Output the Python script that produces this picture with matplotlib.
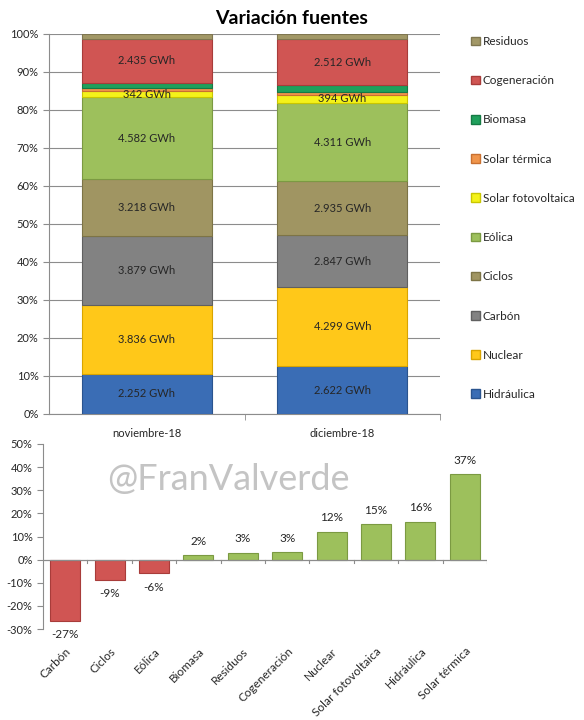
import matplotlib
matplotlib.use("Agg")
import matplotlib.pyplot as plt
from matplotlib.patches import Patch
from matplotlib.ticker import FuncFormatter, MultipleLocator, FixedLocator
import numpy as np

plt.rcParams['font.family'] = ['Lato', 'DejaVu Sans']

# ---------------- data ----------------
months = ["noviembre-18", "diciembre-18"]
sources = ["Hidráulica", "Nuclear", "Carbón", "Ciclos", "Eólica",
           "Solar fotovoltaica", "Solar térmica", "Biomasa", "Cogeneración", "Residuos"]
nov_gwh = [2252, 3836, 3879, 3218, 4582, 342, 150, 330, 2435, 290]
dic_gwh = [2622, 4299, 2847, 2935, 4311, 394, 205, 337, 2512, 299]
show_label = [True, True, True, True, True, True, False, False, True, False]
colors = ["#3A6DB5", "#FFC819", "#828282", "#A09562", "#9DC05C",
          "#F4F21A", "#F0954B", "#1FA05C", "#D05553", "#A29867"]
edges = ["#2a548f", "#d9a400", "#606060", "#7d7446", "#7b9a42",
         "#c9c600", "#c87030", "#157a44", "#a83c3a", "#7f7650"]

var_sources = ["Carbón", "Ciclos", "Eólica", "Biomasa", "Residuos", "Cogeneración",
               "Nuclear", "Solar fotovoltaica", "Hidráulica", "Solar térmica"]
var_pct = [-26.6, -8.8, -5.9, 2.0, 3.0, 3.2, 12.1, 15.2, 16.4, 37.0]

# ---------------- figure ----------------
W, H = 584, 720
fig = plt.figure(figsize=(W / 100, H / 100), dpi=100)

def fx(px):
    return px / W

def fy(py):
    return 1 - py / H

txt_col = "#262626"
ax_col = "#8c8c8c"

# ---------- top stacked 100% chart ----------
ax1 = fig.add_axes([fx(49), fy(414), fx(440) - fx(49), fy(34) - fy(414)])
data = np.array([nov_gwh, dic_gwh], dtype=float)
totals = data.sum(axis=1)
shares = data / totals[:, None] * 100
x = np.arange(len(months))
bottom = np.zeros(len(months))
handles = []
for i, s in enumerate(sources):
    ax1.bar(x, shares[:, i], width=0.665, bottom=bottom, color=colors[i],
            edgecolor=edges[i], linewidth=0.8, zorder=3)
    if show_label[i]:
        for j in range(len(months)):
            v = data[j, i]
            lab = f"{int(v):,} GWh".replace(",", ".")
            ax1.text(x[j], bottom[j] + shares[j, i] / 2, lab, ha="center", va="center",
                     fontsize=8, color=txt_col, zorder=4)
    handles.append(Patch(facecolor=colors[i], edgecolor=edges[i], label=s))
    bottom = bottom + shares[:, i]

ax1.set_xlim(-0.5, 1.5)
ax1.set_ylim(0, 100)
ax1.yaxis.set_major_locator(MultipleLocator(10))
ax1.yaxis.set_major_formatter(FuncFormatter(lambda v, p: f"{int(round(v))}%"))
ax1.grid(axis="y", color="#8c8c8c", linewidth=0.8, zorder=0)
ax1.set_xticks(x)
ax1.set_xticklabels(months, fontsize=8, color=txt_col)
ax1.xaxis.set_minor_locator(FixedLocator([0.5, 1.5]))
ax1.tick_params(axis="x", which="major", length=0, pad=10)
ax1.tick_params(axis="x", which="minor", length=4, color=ax_col)
ax1.tick_params(axis="y", labelsize=8, labelcolor=txt_col, length=4, color=ax_col)
for sp in ["top", "right"]:
    ax1.spines[sp].set_visible(False)
for sp in ["left", "bottom"]:
    ax1.spines[sp].set_color(ax_col)

fig.text(0.5, fy(18), "Variación fuentes", ha="center", va="center",
         fontsize=14, fontweight="bold", color="black")

leg = fig.legend(handles=handles[::-1], loc="upper left",
                 bbox_to_anchor=(fx(471), fy(36)), frameon=False, fontsize=8.5,
                 handlelength=0.75, handleheight=0.75, handletextpad=0.25,
                 labelspacing=2.39, borderpad=0, borderaxespad=0)
for t in leg.get_texts():
    t.set_color(txt_col)

# ---------- bottom variation chart ----------
ax2 = fig.add_axes([fx(43), fy(629), fx(487) - fx(43), fy(444) - fy(629)])
xv = np.arange(len(var_sources))
vcols = ["#D05553" if v < 0 else "#9DC05C" for v in var_pct]
vedges = ["#a83c3a" if v < 0 else "#7b9a42" for v in var_pct]
ax2.bar(xv, var_pct, width=0.68, color=vcols, edgecolor=vedges, linewidth=0.8, zorder=3)
for xi, v in zip(xv, var_pct):
    ax2.annotate(f"{int(round(v))}%", (xi, v), xytext=(0, 6 if v >= 0 else -6),
                 textcoords="offset points", ha="center",
                 va="bottom" if v >= 0 else "top", fontsize=8.5, color=txt_col)
ax2.set_xlim(-0.5, len(var_sources) - 0.5)
ax2.set_ylim(-30, 50)
ax2.yaxis.set_major_locator(MultipleLocator(10))
ax2.yaxis.set_major_formatter(FuncFormatter(lambda v, p: f"{int(round(v))}%"))
ax2.tick_params(axis="y", labelsize=8, labelcolor=txt_col, length=4, color=ax_col)
ax2.set_xticks(xv)
ax2.set_xticklabels(var_sources, rotation=45, ha="right", va="top",
                    rotation_mode="anchor", fontsize=8.5, color=txt_col)
ax2.tick_params(axis="x", which="major", length=0, pad=12)
ax2.axhline(0, color=ax_col, linewidth=0.9, zorder=4)
for b in np.arange(0.5, len(var_sources), 1.0):
    ax2.plot([b, b], [0, -1.6], color=ax_col, linewidth=0.8, zorder=4)
for sp in ["top", "right", "bottom"]:
    ax2.spines[sp].set_visible(False)
ax2.spines["left"].set_color(ax_col)

fig.text(fx(228), fy(479), "@FranValverde", ha="center", va="center",
         fontsize=26, color="#c4c4c4", zorder=10)

fig.savefig("out.png", dpi=100)
